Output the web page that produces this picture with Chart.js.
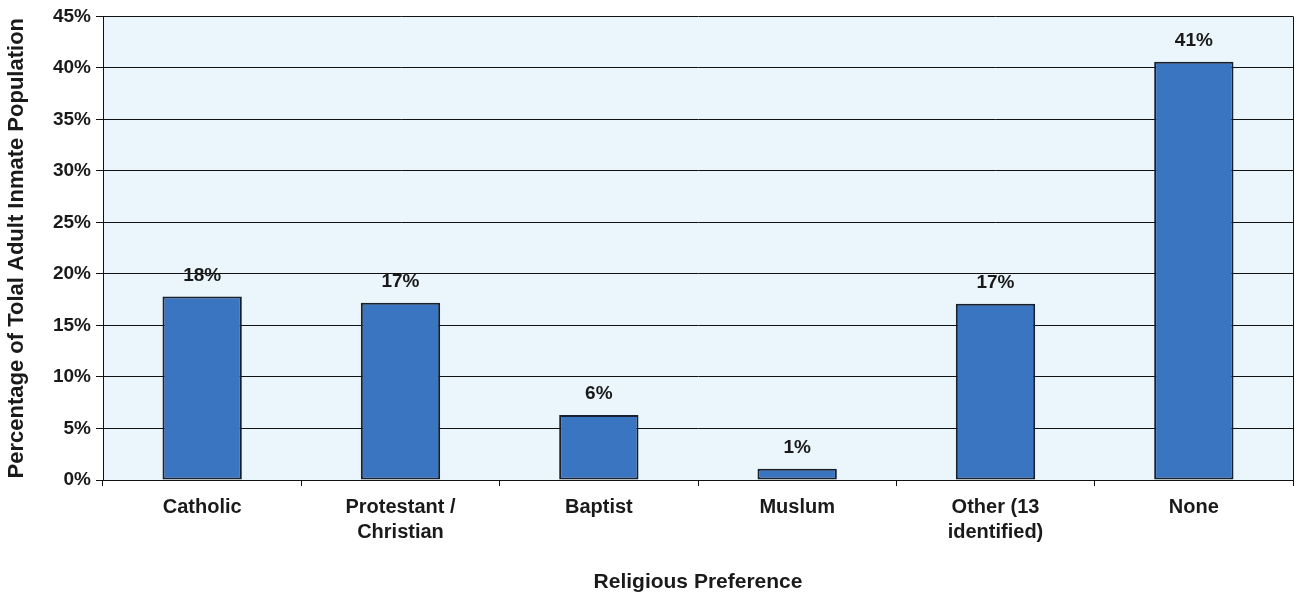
<!DOCTYPE html>
<html>
<head>
<meta charset="utf-8">
<script src="https://cdn.jsdelivr.net/npm/chart.js@4"></script>
<style>
  html, body { margin: 0; padding: 0; background: #fff; }
  #wrap { width: 1300px; height: 600px; }
</style>
</head>
<body>
<div id="wrap"><canvas id="chart" width="1300" height="600"></canvas></div>
<script>
// Datos del gráfico
const categories = [
  'Catholic',
  ['Protestant /', 'Christian'],
  'Baptist',
  'Muslum',
  ['Other (13', 'identified)'],
  'None'
];
const shares = [17.8, 17.2, 6.3, 1.1, 17.1, 40.6];
const shareLabels = ['18%', '17%', '6%', '1%', '17%', '41%'];
const yTicks = [0, 5, 10, 15, 20, 25, 30, 35, 40, 45];

const FONT = '"Liberation Sans", Arial, sans-serif';

// fondo azul claro y borde derecho del área de trazado
const plotFrame = {
  id: 'plotFrame',
  beforeDraw(chart) {
    const { ctx, chartArea: a } = chart;
    ctx.save();
    ctx.fillStyle = '#eaf5fc';
    ctx.fillRect(a.left, a.top, a.right - a.left, a.bottom - a.top);
    ctx.restore();
  },
  afterDatasetsDraw(chart) {
    const { ctx, chartArea: a } = chart;
    ctx.save();
    ctx.strokeStyle = '#111';
    ctx.lineWidth = 1;
    ctx.beginPath();
    ctx.moveTo(a.right + 0.5, a.top);
    ctx.lineTo(a.right + 0.5, a.bottom);
    ctx.stroke();
    ctx.restore();
  }
};

// etiquetas encima de cada barra
const barLabels = {
  id: 'barLabels',
  afterDatasetsDraw(chart) {
    const { ctx } = chart;
    const meta = chart.getDatasetMeta(0);
    ctx.save();
    ctx.font = 'bold 19px ' + FONT;
    ctx.fillStyle = '#1a1a1a';
    ctx.textAlign = 'center';
    ctx.textBaseline = 'alphabetic';
    meta.data.forEach((bar, i) => {
      ctx.fillText(shareLabels[i], bar.x, bar.y - 16);
    });
    ctx.restore();
  }
};

new Chart(document.getElementById('chart'), {
  type: 'bar',
  data: {
    labels: categories,
    datasets: [{
      data: shares,
      backgroundColor: '#3a75c1',
      borderColor: '#16202e',
      borderWidth: 2,
      borderSkipped: false,
      barPercentage: 0.4,
      categoryPercentage: 1
    }]
  },
  options: {
    responsive: false,
    animation: false,
    layout: { padding: { top: 15, right: 7, left: 0, bottom: 0 } },
    plugins: {
      legend: { display: false },
      tooltip: { enabled: false }
    },
    scales: {
      x: {
        grid: {
          offset: true,
          drawOnChartArea: false,
          color: '#111',
          tickLength: 6
        },
        border: { color: '#111', width: 1 },
        ticks: {
          color: '#1a1a1a',
          font: { family: FONT, size: 20, weight: 'bold', lineHeight: 1.25 },
          padding: 9,
          maxRotation: 0,
          autoSkip: false
        },
        title: {
          display: true,
          text: 'Religious Preference',
          color: '#1a1a1a',
          font: { family: FONT, size: 21, weight: 'bold' },
          padding: { top: 20, bottom: 5 }
        },
        afterFit(scale) { scale.height = 120; }
      },
      y: {
        min: 0,
        max: 45,
        afterBuildTicks(scale) { scale.ticks = yTicks.map(v => ({ value: v })); },
        grid: { color: '#111', lineWidth: 1, tickLength: 7 },
        border: { color: '#111', width: 1 },
        ticks: {
          color: '#1a1a1a',
          font: { family: FONT, size: 19, weight: 'bold' },
          padding: 5,
          callback: v => v + '%'
        },
        title: {
          display: true,
          text: 'Percentage of Tolal Adult Inmate Population',
          color: '#1a1a1a',
          font: { family: FONT, size: 22, weight: 'bold' },
          padding: { top: 4, bottom: 4 }
        },
        afterFit(scale) { scale.width = 103; }
      }
    }
  },
  plugins: [plotFrame, barLabels]
});
</script>
</body>
</html>
